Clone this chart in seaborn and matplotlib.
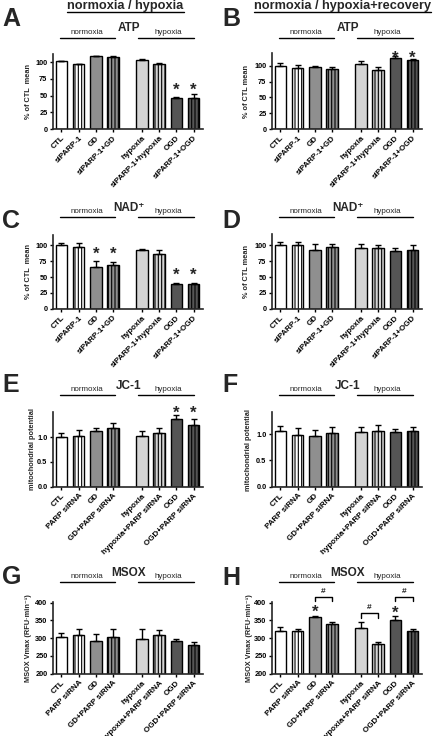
import numpy as np
import pandas as pd
import matplotlib
matplotlib.use("Agg")
import matplotlib.pyplot as plt
import matplotlib.transforms as mtrans
from matplotlib.lines import Line2D
import seaborn as sns

# ---------------- data ----------------
labels_si = ["CTL", "siPARP-1", "GD", "siPARP-1+GD", "hypoxia", "siPARP-1+hypoxia", "OGD", "siPARP-1+OGD"]
labels_rna = ["CTL", "PARP siRNA", "GD", "GD+PARP siRNA", "hypoxia", "hypoxia+PARP siRNA", "OGD", "OGD+PARP siRNA"]
positions = [0, 1, 2, 3, 4.67, 5.67, 6.67, 7.67]

A_mean = [101.5, 97, 109, 108.5, 104, 98, 46, 46.5]
A_err = [1, 1, 1, 1, 1, 1, 2, 6.5]
B_mean = [100, 96.8, 98.4, 95, 102.6, 93, 112.8, 109]
B_err = [5, 4.8, 1.6, 2.3, 4.4, 5.4, 2.2, 1]
C_mean = [100, 97.4, 66.3, 69.5, 92, 86.3, 39, 39]
C_err = [3.7, 6.6, 9.5, 4.2, 3, 6.7, 1.5, 1.5]
D_mean = [100, 100, 93, 97, 96, 95, 91, 92]
D_err = [6, 6, 8.5, 5, 6.6, 5, 5, 8]
E_mean = [1.00, 1.03, 1.13, 1.18, 1.02, 1.09, 1.36, 1.25]
E_err = [0.09, 0.12, 0.06, 0.10, 0.10, 0.10, 0.08, 0.11]
F_mean = [1.05, 0.99, 0.96, 1.01, 1.03, 1.06, 1.04, 1.05]
F_err = [0.10, 0.12, 0.11, 0.12, 0.10, 0.12, 0.06, 0.08]
G_mean = [304, 309, 292, 303, 299, 310, 291, 280]
G_err = [11, 18, 19, 22, 26, 14, 6, 8]
H_mean = [320, 321, 360, 341, 330, 283, 351, 320]
H_err = [12, 4, 4, 4, 17, 7, 11, 6]

# significance marks: (bar index, y)
A_stars = [(6, 65), (7, 65)]
B_stars = [(6, 120), (7, 119)]
C_stars = [(2, 94), (3, 94), (6, 61), (7, 61)]
E_stars = [(6, 1.58), (7, 1.58)]
H_stars = [(2, 386), (6, 385)]
H_brackets = [(2, 3, 405, 417, 433), (4, 5, 358, 372, 388), (6, 7, 405, 417, 433)]

fill_colors = ["#ffffff", "#ffffff", "#8f8f8f", "#8f8f8f", "#d4d4d4", "#d4d4d4", "#555555", "#555555"]
hatches = ["", "|||||", "", "|||||", "", "|||||", "", "|||||"]

# ---------------- style ----------------
sns.set_theme(style="ticks")
plt.rcParams["font.family"] = ["Liberation Sans", "DejaVu Sans"]
plt.rcParams["hatch.linewidth"] = 0.8
plt.rcParams["axes.linewidth"] = 1.2

W, H = 433, 736
fig = plt.figure(figsize=(W / 100, H / 100), dpi=100)


def rect(left, bottom, w, h):
    return [left / W, 1 - bottom / H, w / W, h / H]


def panel(r, labels, means, errs, ylim, yticks, yticklabels, ylabel, ylab_x, title, letter, letter_xy):
    ax = fig.add_axes(rect(*r))
    df = pd.DataFrame({"pos": positions, "val": means, "cond": labels})
    pal = dict(zip(labels, fill_colors))
    sns.barplot(data=df, x="pos", y="val", hue="cond", palette=pal, native_scale=True,
                dodge=False, width=0.66, legend=False, edgecolor="black", linewidth=1.0,
                errorbar=None, saturation=1, ax=ax)
    bars = sorted([p for p in ax.patches], key=lambda p: p.get_x())
    for b, h in zip(bars, hatches):
        b.set_hatch(h)
    ax.errorbar(positions, means, yerr=[np.zeros(len(means)), errs], fmt="none",
                ecolor="black", elinewidth=1, capsize=2.3, capthick=1, zorder=3)
    ax.set_xlim(-0.49, 8.22)
    ax.set_ylim(*ylim)
    ax.set_yticks(yticks)
    ax.set_yticklabels(yticklabels, fontsize=5.3, fontweight="bold")
    ax.set_xticks(positions)
    ax.set_xticklabels(labels, rotation=45, ha="right", rotation_mode="anchor",
                       fontsize=5.8, fontweight="bold")
    ax.tick_params(axis="both", direction="out", length=2.5, width=1, pad=1.5, colors="black")
    ax.set_xlabel("")
    ax.set_ylabel(ylabel, fontsize=5.3, fontweight="bold")
    ax.yaxis.set_label_coords(ylab_x, 0.5)
    sns.despine(ax=ax)

    trans = mtrans.blended_transform_factory(ax.transData, ax.transAxes)

    def off(dy):
        return mtrans.offset_copy(trans, fig=fig, x=0, y=dy, units="dots")

    ax.add_line(Line2D([-0.1, 3.1], [0, 0], transform=off(91.5), color="black", lw=1, clip_on=False))
    ax.add_line(Line2D([4.44, 7.69], [0, 0], transform=off(91.5), color="black", lw=1, clip_on=False))
    ax.text(1.5, 0, "normoxia", transform=off(97), ha="center", va="center", fontsize=5.8)
    ax.text(6.18, 0, "hypoxia", transform=off(97), ha="center", va="center", fontsize=5.8)
    ax.text(3.91, 0, title, transform=off(100.7), ha="center", va="center", fontsize=8.5, fontweight="bold")
    fig.text(letter_xy[0] / W, 1 - letter_xy[1] / H, letter, fontsize=18, fontweight="bold",
             ha="left", va="top")
    return ax


def stars(ax, marks, fs=12):
    for i, y in marks:
        ax.annotate("*", xy=(positions[i], y), xytext=(0, -0.57 * fs), textcoords="offset points",
                    ha="center", va="baseline", fontsize=fs, fontweight="bold", annotation_clip=False)


pct_ticks = [0, 25, 50, 75, 100]
pct_lbl = ["0", "25", "50", "75", "100"]
jc_ticks = [0, 0.5, 1.0]
jc_lbl = ["0.0", "0.5", "1.0"]
ms_ticks = [200, 250, 300, 350, 400]
ms_lbl = ["200", "250", "300", "350", "400"]
L, R = 53, 272

axA = panel((L, 129, 150, 74.7), labels_si, A_mean, A_err, (0, 112), pct_ticks, pct_lbl,
            "% of CTL  mean", -0.137, "ATP", "A", (2, 7))
axB = panel((R, 129, 150, 76), labels_si, B_mean, B_err, (0, 120), pct_ticks, pct_lbl,
            "% of CTL mean", -0.15, "ATP", "B", (222, 7))
axC = panel((L, 308.7, 150, 73.5), labels_si, C_mean, C_err, (0, 116), pct_ticks, pct_lbl,
            "% of CTL  mean", -0.137, "NAD⁺", "C", (2, 209))
axD = panel((R, 308.7, 150, 74.8), labels_si, D_mean, D_err, (0, 118), pct_ticks, pct_lbl,
            "% of CTL mean", -0.15, "NAD⁺", "D", (222, 209))
axE = panel((L, 486.7, 150, 75), labels_rna, E_mean, E_err, (0, 1.51), jc_ticks, jc_lbl,
            "mitochondrial potential", -0.112, "JC-1", "E", (2, 373))
axF = panel((R, 486.7, 150, 74.3), labels_rna, F_mean, F_err, (0, 1.41), jc_ticks, jc_lbl,
            "mitochondrial potential", -0.13, "JC-1", "F", (222, 373))
axG = panel((L, 673.7, 150, 72), labels_rna, G_mean, G_err, (200, 403), ms_ticks, ms_lbl,
            "MSOX Vmax (RFU·min⁻¹)", -0.142, "MSOX", "G", (2, 565))
axH = panel((R, 673.7, 150, 72), labels_rna, H_mean, H_err, (200, 403), ms_ticks, ms_lbl,
            "MSOX Vmax (RFU·min⁻¹)", -0.129, "MSOX", "H", (222, 566))

stars(axA, A_stars)
stars(axB, B_stars)
stars(axC, C_stars)
stars(axE, E_stars)
stars(axH, H_stars)

for i, j, ylo, yhi, ytxt in H_brackets:
    x0, x1 = positions[i], positions[j]
    axH.plot([x0, x0, x1, x1], [ylo, yhi, yhi, ylo], color="black", lw=1, clip_on=False)
    axH.text((x0 + x1) / 2, ytxt, "#", ha="center", va="center", fontsize=6, fontweight="bold",
             clip_on=False)

# headings with underline
hA = fig.text(125.5 / W, 1 - 9.5 / H, "normoxia / hypoxia", ha="center", va="baseline",
              fontsize=9.2, fontweight="bold")
hB = fig.text(342.5 / W, 1 - 9.5 / H, "normoxia / hypoxia+recovery", ha="center", va="baseline",
              fontsize=9.2, fontweight="bold")
fig.canvas.draw()
for t in (hA, hB):
    bb = t.get_window_extent()
    yline = 1 - 12.3 / H
    fig.add_artist(Line2D([bb.x0 / W, bb.x1 / W], [yline, yline], transform=fig.transFigure,
                          color="black", lw=1))

fig.savefig("out.png", dpi=100)
